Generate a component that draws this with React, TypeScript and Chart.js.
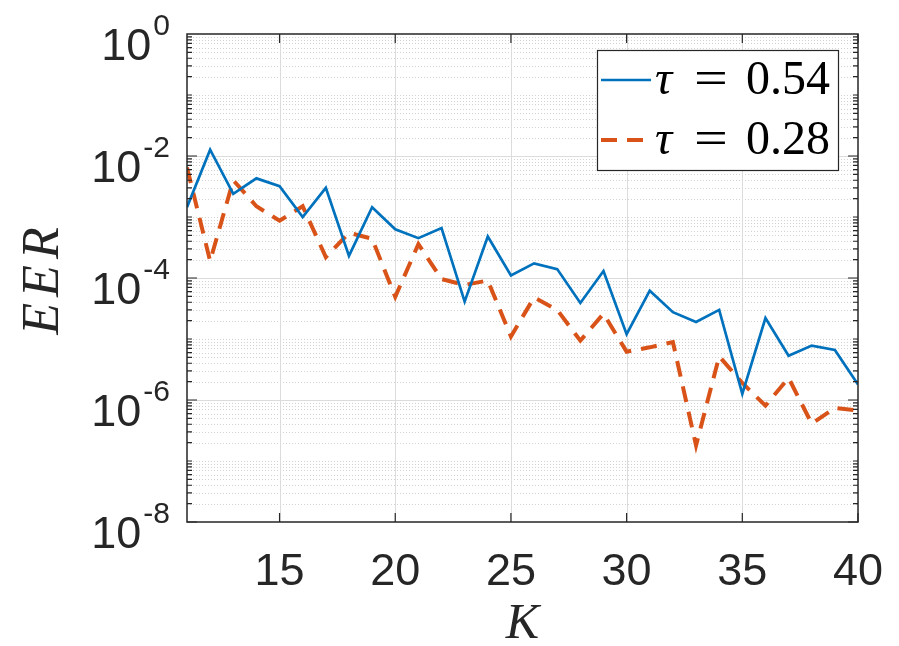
import React, { useEffect, useRef } from 'react';
import { Chart, registerables } from 'chart.js';

Chart.register(...registerables);

// ---- data ----
const K = [11, 12, 13, 14, 15, 16, 17, 18, 19, 20, 21, 22, 23, 24, 25, 26, 27, 28, 29, 30, 31, 32, 33, 34, 35, 36, 37, 38, 39, 40];
const eerTau054 = [
  1.45e-3, 1.27e-2, 2.4e-3, 4.3e-3, 3.2e-3, 1.0e-3, 3.0e-3, 2.3e-4, 1.45e-3, 6.3e-4,
  4.5e-4, 6.6e-4, 4.1e-5, 4.8e-4, 1.1e-4, 1.74e-4, 1.4e-4, 3.9e-5, 1.3e-4, 1.2e-5,
  6.2e-5, 2.75e-5, 1.9e-5, 3.0e-5, 1.26e-6, 2.2e-5, 5.3e-6, 7.8e-6, 6.6e-6, 1.8e-6,
];
const eerTau028 = [
  6.5e-3, 1.9e-4, 4.0e-3, 1.5e-3, 8.7e-4, 1.5e-3, 2.2e-4, 5.5e-4, 4.4e-4, 4.9e-5,
  3.6e-4, 9.6e-5, 7.7e-5, 9.1e-5, 1.1e-5, 4.8e-5, 3.0e-5, 9.4e-6, 2.6e-5, 6.2e-6,
  7.3e-6, 8.9e-6, 1.8e-7, 5.2e-6, 1.9e-6, 8.1e-7, 2.3e-6, 4.1e-7, 7.4e-7, 6.7e-7,
];
const seriesTaus = ['0.54', '0.28'];
const seriesColors = ['#0072BD', '#D95319'];
const xTicks = [15, 20, 25, 30, 35, 40];
const yExponents = [0, -2, -4, -6, -8];
const xTitle = 'K';
const yTitle = 'EER';

const AXIS = '#262626';
const SANS = '"Liberation Sans", Arial, Helvetica, sans-serif';
const SERIF = '"Liberation Serif", "Times New Roman", serif';

const decorPlugin = {
  id: 'matlabDecor',
  beforeDatasetsDraw(chart: any) {
    const { ctx, chartArea: a, scales } = chart;
    const x = scales.x, y = scales.y;
    ctx.save();
    // minor dotted horizontal grid
    ctx.lineWidth = 1;
    ctx.strokeStyle = '#d2d2d2';
    ctx.setLineDash([1, 2]);
    for (let k = -8; k <= -1; k++) {
      for (let m = 1; m <= 9; m++) {
        if (m === 1 && k % 2 === 0) continue;
        const py = Math.round(y.getPixelForValue(m * Math.pow(10, k))) + 0.5;
        ctx.beginPath();
        ctx.moveTo(a.left, py);
        ctx.lineTo(a.right, py);
        ctx.stroke();
      }
    }
    // major solid grid
    ctx.setLineDash([]);
    ctx.strokeStyle = '#dcdcdc';
    for (const e of yExponents) {
      const py = Math.round(y.getPixelForValue(Math.pow(10, e))) + 0.5;
      if (py <= a.top + 1 || py >= a.bottom - 1) continue;
      ctx.beginPath();
      ctx.moveTo(a.left, py);
      ctx.lineTo(a.right, py);
      ctx.stroke();
    }
    for (const t of xTicks) {
      const px = Math.round(x.getPixelForValue(t)) + 0.5;
      if (px <= a.left + 1 || px >= a.right - 1) continue;
      ctx.beginPath();
      ctx.moveTo(px, a.top);
      ctx.lineTo(px, a.bottom);
      ctx.stroke();
    }
    ctx.restore();
  },
  afterDatasetsDraw(chart: any) {
    const { ctx, chartArea: a, scales } = chart;
    const x = scales.x, y = scales.y;
    ctx.save();
    ctx.setLineDash([]);
    // frame
    ctx.strokeStyle = AXIS;
    ctx.lineWidth = 1.5;
    ctx.strokeRect(a.left, a.top, a.right - a.left, a.bottom - a.top);
    // y ticks
    ctx.lineWidth = 1.2;
    for (let k = -8; k <= -1; k++) {
      for (let m = 1; m <= 9; m++) {
        const major = m === 1 && k % 2 === 0;
        const len = major ? 10 : 5;
        const py = y.getPixelForValue(m * Math.pow(10, k));
        ctx.beginPath();
        ctx.moveTo(a.left, py);
        ctx.lineTo(a.left + len, py);
        ctx.moveTo(a.right, py);
        ctx.lineTo(a.right - len, py);
        ctx.stroke();
      }
    }
    // x ticks
    for (const t of xTicks) {
      const px = x.getPixelForValue(t);
      ctx.beginPath();
      ctx.moveTo(px, a.bottom);
      ctx.lineTo(px, a.bottom - 9);
      ctx.moveTo(px, a.top);
      ctx.lineTo(px, a.top + 9);
      ctx.stroke();
    }
    // x tick labels
    ctx.fillStyle = AXIS;
    ctx.font = `45px ${SANS}`;
    ctx.textAlign = 'center';
    ctx.textBaseline = 'alphabetic';
    for (const t of xTicks) {
      ctx.fillText(String(t), x.getPixelForValue(t), a.bottom + 63);
    }
    // y tick labels 10^e
    const rightEdge = a.left - 17;
    for (const e of yExponents) {
      const py = y.getPixelForValue(Math.pow(10, e));
      const expStr = String(e);
      ctx.font = `30px ${SANS}`;
      const ew = ctx.measureText(expStr).width;
      ctx.textAlign = 'left';
      ctx.fillText(expStr, rightEdge - ew, py + 1);
      ctx.font = `45px ${SANS}`;
      ctx.textAlign = 'right';
      ctx.fillText('10', rightEdge - ew - 2, py + 26);
    }
    // axis titles
    ctx.font = `italic 50px ${SERIF}`;
    ctx.textAlign = 'center';
    ctx.fillText(xTitle, (a.left + a.right) / 2, a.bottom + 116);
    ctx.save();
    ctx.translate(58, (a.top + a.bottom) / 2);
    ctx.rotate(-Math.PI / 2);
    ctx.font = `italic 52px ${SERIF}`;
    (ctx as any).letterSpacing = '6px';
    ctx.fillText(yTitle, 0, 0);
    ctx.restore();

    // legend
    const bx = 597, by = 50, bw = 241, bh = 120;
    ctx.fillStyle = '#ffffff';
    ctx.fillRect(bx, by, bw, bh);
    ctx.strokeStyle = AXIS;
    ctx.lineWidth = 1.2;
    ctx.strokeRect(bx + 0.5, by + 0.5, bw, bh);
    const rows = [by + 30, by + 90];
    seriesTaus.forEach((tau, i) => {
      const ry = rows[i];
      ctx.strokeStyle = seriesColors[i];
      if (i === 0) {
        ctx.lineWidth = 2.7;
        ctx.setLineDash([]);
      } else {
        ctx.lineWidth = 4;
        ctx.setLineDash([16, 10]);
      }
      ctx.beginPath();
      ctx.moveTo(601, ry);
      ctx.lineTo(651, ry);
      ctx.stroke();
      ctx.setLineDash([]);
      ctx.fillStyle = '#000000';
      ctx.textAlign = 'left';
      ctx.font = `italic 48px ${SERIF}`;
      ctx.fillText('\u03C4', 655, ry + 14);
      ctx.font = `48px ${SERIF}`;
      ctx.save();
      ctx.translate(694, ry + 14);
      ctx.scale(1.25, 1);
      ctx.fillText('=', 0, 0);
      ctx.restore();
      ctx.fillText(tau, 746, ry + 14);
    });
    ctx.restore();
  },
};

export default function App() {
  const ref = useRef<HTMLCanvasElement | null>(null);
  useEffect(() => {
    if (!ref.current) return;
    const chart = new Chart(ref.current, {
      type: 'line',
      data: {
        datasets: [
          {
            label: `τ = ${seriesTaus[0]}`,
            data: K.map((k, i) => ({ x: k, y: eerTau054[i] })),
            borderColor: seriesColors[0],
            borderWidth: 2.7,
            pointRadius: 0,
            tension: 0,
            fill: false,
          },
          {
            label: `τ = ${seriesTaus[1]}`,
            data: K.map((k, i) => ({ x: k, y: eerTau028[i] })),
            borderColor: seriesColors[1],
            borderWidth: 4,
            borderDash: [16, 10],
            pointRadius: 0,
            tension: 0,
            fill: false,
          },
        ],
      },
      options: {
        responsive: false,
        animation: false,
        layout: { padding: { left: 187, right: 41, top: 34, bottom: 124 } },
        plugins: { legend: { display: false }, tooltip: { enabled: false } },
        scales: {
          x: { type: 'linear', min: 11, max: 40, display: false },
          y: { type: 'logarithmic', min: 1e-8, max: 1, display: false },
        },
      },
      plugins: [decorPlugin],
    });
    return () => chart.destroy();
  }, []);
  return (
    <div style={{ position: 'absolute', left: 0, top: 0, width: 899, height: 646, background: '#fff' }}>
      <canvas ref={ref} width={899} height={646} style={{ display: 'block' }} />
    </div>
  );
}
